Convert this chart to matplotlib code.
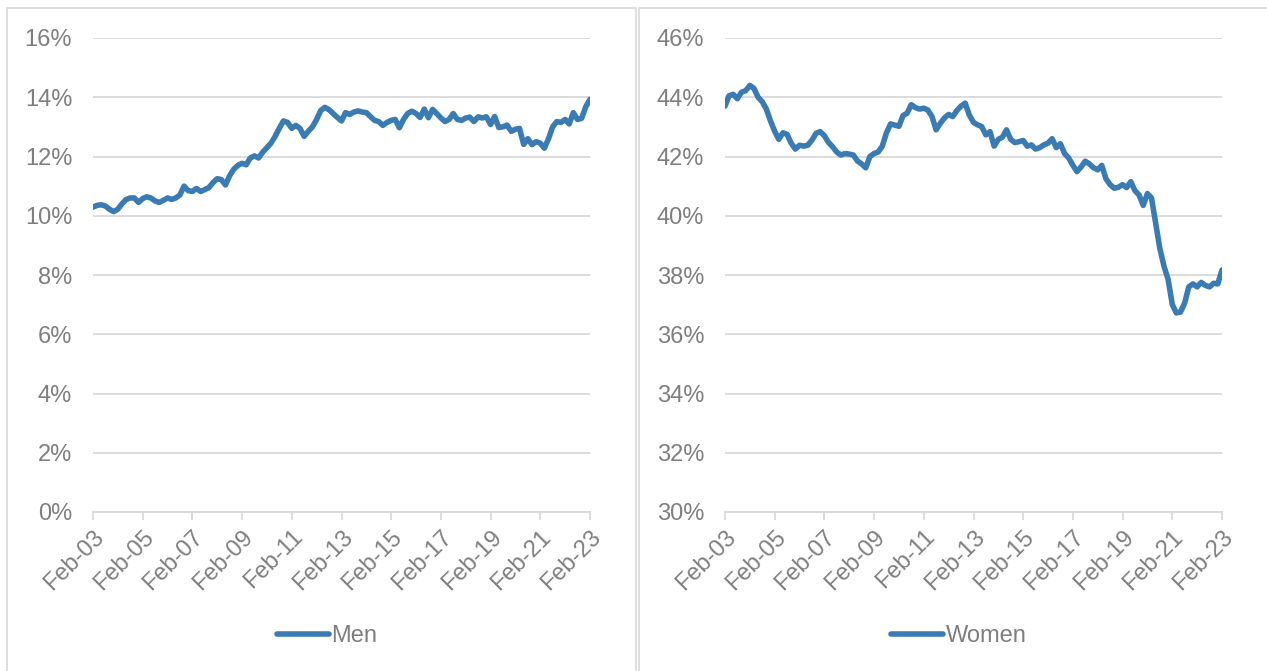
import matplotlib
matplotlib.use("Agg")
import matplotlib.pyplot as plt
import matplotlib.dates as mdates
from matplotlib.patches import Rectangle
from matplotlib.ticker import FuncFormatter
import pandas as pd

# Bi-monthly observations, Feb 2003 to Feb 2023
dates = pd.date_range("2003-02-01", "2023-02-01", freq="2MS")

men = [
    10.29, 10.35, 10.37, 10.33, 10.22, 10.14, 10.22, 10.40, 10.55, 10.60,
    10.60, 10.45, 10.58, 10.64, 10.60, 10.50, 10.45, 10.52, 10.60, 10.55,
    10.60, 10.70, 11.00, 10.85, 10.82, 10.92, 10.82, 10.88, 10.95, 11.12,
    11.25, 11.22, 11.04, 11.35, 11.57, 11.70, 11.77, 11.72, 11.95, 12.02,
    11.95, 12.15, 12.30, 12.45, 12.68, 12.95, 13.20, 13.15, 12.95, 13.05,
    12.95, 12.68, 12.85, 13.00, 13.25, 13.55, 13.66, 13.58, 13.45, 13.32,
    13.20, 13.48, 13.42, 13.50, 13.54, 13.50, 13.48, 13.35, 13.22, 13.18,
    13.05, 13.15, 13.22, 13.25, 12.97, 13.25, 13.45, 13.53, 13.45, 13.32,
    13.60, 13.31, 13.59, 13.45, 13.30, 13.18, 13.25, 13.45, 13.25, 13.22,
    13.30, 13.33, 13.18, 13.34, 13.30, 13.34, 13.08, 13.35, 12.98, 13.00,
    13.06, 12.85, 12.92, 12.95, 12.41, 12.60, 12.40, 12.50, 12.45, 12.28,
    12.60, 13.00, 13.18, 13.15, 13.25, 13.10, 13.48, 13.25, 13.29, 13.68,
    13.93,
]

women = [
    43.70, 44.05, 44.10, 43.95, 44.17, 44.22, 44.40, 44.30, 44.00, 43.85,
    43.60, 43.20, 42.85, 42.58, 42.80, 42.75, 42.45, 42.25, 42.38, 42.35,
    42.38, 42.55, 42.78, 42.84, 42.70, 42.48, 42.33, 42.15, 42.05, 42.10,
    42.08, 42.05, 41.85, 41.75, 41.62, 42.00, 42.10, 42.15, 42.35, 42.80,
    43.10, 43.06, 43.02, 43.38, 43.46, 43.75, 43.65, 43.60, 43.63, 43.57,
    43.35, 42.90, 43.12, 43.30, 43.42, 43.35, 43.55, 43.70, 43.80, 43.40,
    43.15, 43.07, 43.01, 42.73, 42.84, 42.35, 42.58, 42.65, 42.90, 42.58,
    42.47, 42.50, 42.54, 42.35, 42.39, 42.25, 42.30, 42.39, 42.45, 42.60,
    42.30, 42.43, 42.10, 41.95, 41.70, 41.49, 41.65, 41.84, 41.75, 41.62,
    41.55, 41.70, 41.25, 41.05, 40.93, 40.96, 41.05, 40.95, 41.15, 40.85,
    40.70, 40.35, 40.75, 40.60, 39.75, 38.90, 38.30, 37.85, 37.00, 36.72,
    36.75, 37.05, 37.60, 37.70, 37.60, 37.75, 37.65, 37.60, 37.72, 37.70,
    38.17,
]

men_ticks = [0, 2, 4, 6, 8, 10, 12, 14, 16]
women_ticks = [30, 32, 34, 36, 38, 40, 42, 44, 46]
tick_dates = pd.date_range("2003-02-01", "2023-02-01", freq="24MS")

LINE = "#3A7BB4"
GRID = "#D9D9D9"
TEXT = "#7F7F7F"
W, H = 1267, 671
FS = 17

plt.rcParams["font.family"] = ["Liberation Sans", "DejaVu Sans"]

fig = plt.figure(figsize=(W / 100, H / 100), dpi=100)
fig.patch.set_facecolor("white")

# panel frames
for x0, x1 in [(7, 636), (639, 1268)]:
    fig.patches.append(Rectangle((x0 / W, -0.01), (x1 - x0) / W, (H - 8) / H + 0.01,
                                 transform=fig.transFigure, fill=False,
                                 edgecolor="#D9D9D9", linewidth=1.2))


def panel(left_px, values, yticks, name, legend_x):
    ax = fig.add_axes([left_px / W, (H - 512) / H, 497 / W, 474 / H])
    ax.plot(dates, values, color=LINE, linewidth=4.0, solid_capstyle="round",
            solid_joinstyle="round", label=name, zorder=3)
    ax.set_xlim(dates[0], dates[-1])
    ax.set_ylim(yticks[0], yticks[-1])
    ax.set_yticks(yticks)
    ax.yaxis.set_major_formatter(FuncFormatter(lambda v, p: f"{v:.0f}%"))
    ax.set_xticks(tick_dates)
    ax.xaxis.set_major_formatter(mdates.DateFormatter("%b-%y"))
    ax.grid(axis="y", color=GRID, linewidth=1.3)
    ax.set_axisbelow(True)
    for s in ("top", "right", "left"):
        ax.spines[s].set_visible(False)
    ax.spines["bottom"].set_color(GRID)
    ax.spines["bottom"].set_linewidth(1.3)
    ax.tick_params(axis="y", length=0, pad=15, labelsize=FS, labelcolor=TEXT)
    ax.tick_params(axis="x", length=6, width=1.3, color=GRID, pad=4,
                   labelsize=FS, labelcolor=TEXT)
    for lab in ax.get_xticklabels():
        lab.set_rotation(45)
        lab.set_ha("right")
        lab.set_va("top")
        lab.set_rotation_mode("anchor")
    fig.legend(handles=ax.get_lines(), loc="center", frameon=False,
               bbox_to_anchor=(legend_x / W, (H - 636) / H),
               bbox_transform=fig.transFigure, fontsize=FS, labelcolor=TEXT,
               handlelength=2.2, handletextpad=0.1)
    return ax


panel(93, men, men_ticks, "Men", 327)
panel(725, women, women_ticks, "Women", 959)

fig.savefig("out.png", dpi=100, facecolor="white")
